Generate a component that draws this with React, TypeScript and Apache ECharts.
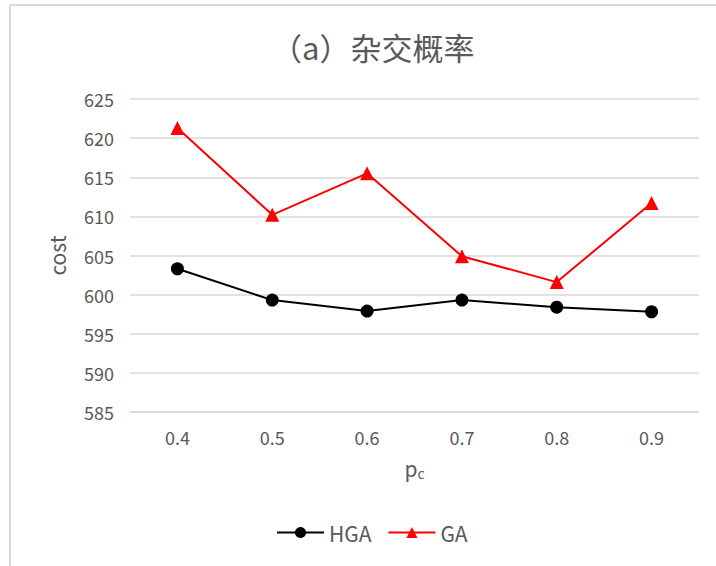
import React, { useEffect, useRef } from "react";
import * as echarts from "echarts";

const categories = ["0.4", "0.5", "0.6", "0.7", "0.8", "0.9"];
const hgaValues = [603.3, 599.3, 597.9, 599.3, 598.4, 597.8];
const gaValues = [621.3, 610.2, 615.5, 604.9, 601.6, 611.7];
const yMin = 585;
const yMax = 625;
const yStep = 5;

const GRAY = "#595959";
const FONT = "'Noto Sans CJK SC', 'Noto Sans', sans-serif";

export default function App() {
  const ref = useRef<HTMLDivElement>(null);
  useEffect(() => {
    if (!ref.current) return;
    const chart = echarts.init(ref.current, undefined, { renderer: "svg" });
    chart.setOption({
      animation: false,
      backgroundColor: "#ffffff",
      textStyle: { fontFamily: FONT },
      graphic: [
        { type: "line", shape: { x1: 10, y1: 5, x2: 716, y2: 5 }, style: { stroke: "#d9d9d9", lineWidth: 2 } },
        { type: "line", shape: { x1: 10, y1: 5, x2: 10, y2: 566 }, style: { stroke: "#d9d9d9", lineWidth: 2 } },
      ],
      title: {
        text: "（a）杂交概率",
        left: 266,
        top: 26,
        textStyle: { fontSize: 31, fontWeight: "normal", color: GRAY, fontFamily: FONT },
      },
      grid: { left: 130, right: 17, top: 99, bottom: 154 },
      legend: {
        bottom: 18,
        left: 271,
        itemWidth: 47,
        itemHeight: 14,
        itemGap: 16,
        textStyle: { fontSize: 21, color: GRAY, fontFamily: FONT },
        data: ["HGA", "GA"],
      },
      xAxis: {
        type: "category",
        data: categories,
        boundaryGap: true,
        axisLine: { show: true, lineStyle: { color: "#d9d9d9", width: 1.5 } },
        axisTick: { show: false },
        axisLabel: { fontSize: 18, color: GRAY, margin: 16, fontFamily: FONT },
        name: "{p|p}{c|c}",
        nameLocation: "middle",
        nameGap: 44,
        nameTextStyle: {
          rich: {
            p: { fontSize: 21, color: GRAY, fontFamily: FONT },
            c: { fontSize: 14, color: GRAY, fontFamily: FONT, padding: [10, 0, 0, 0] },
          },
        },
      },
      yAxis: {
        type: "value",
        min: yMin,
        max: yMax,
        interval: yStep,
        axisLine: { show: false },
        axisTick: { show: false },
        splitLine: { lineStyle: { color: "#d9d9d9", width: 1.5 } },
        axisLabel: { fontSize: 18, color: GRAY, margin: 16, fontFamily: FONT },
        name: "cost",
        nameLocation: "middle",
        nameGap: 63,
        nameTextStyle: { fontSize: 21, color: GRAY, fontFamily: FONT },
      },
      series: [
        {
          name: "HGA",
          type: "line",
          data: hgaValues,
          symbol: "circle",
          symbolSize: 13,
          itemStyle: { color: "#000000" },
          lineStyle: { color: "#000000", width: 2 },
        },
        {
          name: "GA",
          type: "line",
          data: gaValues,
          symbol: "triangle",
          symbolSize: 14,
          itemStyle: { color: "#ff0000" },
          lineStyle: { color: "#ff0000", width: 2 },
        },
      ],
    });
    return () => chart.dispose();
  }, []);
  return (
    <div
      ref={ref}
      style={{ position: "fixed", left: 0, top: 0, width: 716, height: 566, background: "#fff" }}
    />
  );
}
